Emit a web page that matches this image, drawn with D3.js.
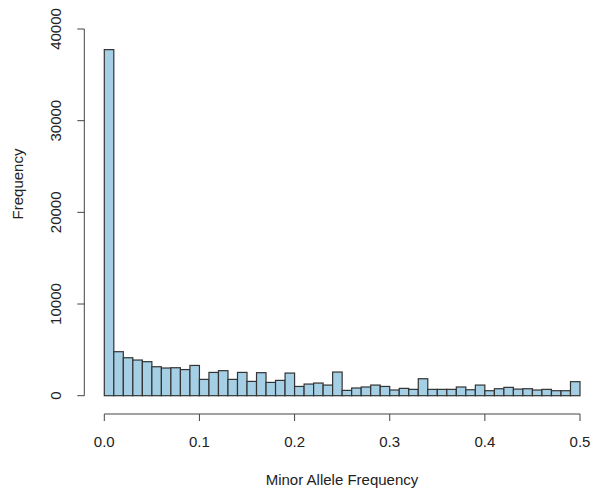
<!DOCTYPE html>
<html>
<head>
<meta charset="utf-8">
<script src="https://cdn.jsdelivr.net/npm/d3@7"></script>
<style>
  body { margin: 0; background: #fff; }
  text { font-family: "Liberation Sans", Arial, sans-serif; fill: #222; }
</style>
</head>
<body>
<div id="chart"></div>
<script>
// histogram of minor allele frequency, 50 bins of width 0.01
const binWidth = 0.01;
const counts = [
  37750, 4800, 4140, 3890, 3710, 3160, 3020, 3050, 2850, 3300,
  1780, 2540, 2730, 1780, 2540, 1560, 2510, 1450, 1670, 2470,
  1010, 1270, 1380, 1160, 2580, 580, 840, 950, 1160, 1010,
  620, 800, 690, 1850, 690, 690, 690, 950, 650, 1160,
  545, 760, 910, 720, 760, 620, 690, 545, 545, 1530
];
const xTicks = [0, 0.1, 0.2, 0.3, 0.4, 0.5];
const xTickLabels = ["0.0", "0.1", "0.2", "0.3", "0.4", "0.5"];
const yTicks = [0, 10000, 20000, 30000, 40000];

const width = 597, height = 496;

const svg = d3.select("#chart").append("svg")
    .attr("width", width)
    .attr("height", height);

const x = d3.scaleLinear().domain([0, 0.5]).range([104.3, 580]);
const y = d3.scaleLinear().domain([0, 40000]).range([395.7, 29]);

// bars
svg.selectAll(".bar")
    .data(counts)
    .enter()
    .append("rect")
    .attr("class", "bar")
    .attr("x", (d, i) => x(i * binWidth))
    .attr("y", d => y(d))
    .attr("width", (d, i) => x((i + 1) * binWidth) - x(i * binWidth))
    .attr("height", d => y(0) - y(d))
    .style("fill", "#a5cfe4")
    .style("stroke", "#333")
    .style("stroke-width", 1.2);

// x axis (R style: line spans first to last tick)
const xAxisY = 414;
const gx = svg.append("g");
gx.append("line")
    .attr("x1", x(xTicks[0])).attr("x2", x(xTicks[xTicks.length - 1]))
    .attr("y1", xAxisY).attr("y2", xAxisY)
    .style("stroke", "#444").style("stroke-width", 1);
gx.selectAll(".xtick")
    .data(xTicks)
    .enter()
    .append("line")
    .attr("x1", d => x(d)).attr("x2", d => x(d))
    .attr("y1", xAxisY).attr("y2", xAxisY + 7)
    .style("stroke", "#444");
gx.selectAll(".xlabel")
    .data(xTicks)
    .enter()
    .append("text")
    .attr("x", d => x(d))
    .attr("y", 447)
    .attr("text-anchor", "middle")
    .style("font-size", "15px")
    .text((d, i) => xTickLabels[i]);

// y axis
const yAxisX = 84.3;
const gy = svg.append("g");
gy.append("line")
    .attr("x1", yAxisX).attr("x2", yAxisX)
    .attr("y1", y(yTicks[0])).attr("y2", y(yTicks[yTicks.length - 1]))
    .style("stroke", "#444");
gy.selectAll(".ytick")
    .data(yTicks)
    .enter()
    .append("line")
    .attr("x1", yAxisX - 7).attr("x2", yAxisX)
    .attr("y1", d => y(d)).attr("y2", d => y(d))
    .style("stroke", "#444");
gy.selectAll(".ylabel")
    .data(yTicks)
    .enter()
    .append("text")
    .attr("transform", d => "translate(61," + y(d) + ") rotate(-90)")
    .attr("text-anchor", "middle")
    .style("font-size", "15px")
    .text(d => d);

// axis titles
svg.append("text")
    .attr("x", 342)
    .attr("y", 485)
    .attr("text-anchor", "middle")
    .style("font-size", "15px")
    .text("Minor Allele Frequency");

svg.append("text")
    .attr("transform", "translate(23," + 184 + ") rotate(-90)")
    .attr("text-anchor", "middle")
    .style("font-size", "15px")
    .text("Frequency");
</script>
</body>
</html>
